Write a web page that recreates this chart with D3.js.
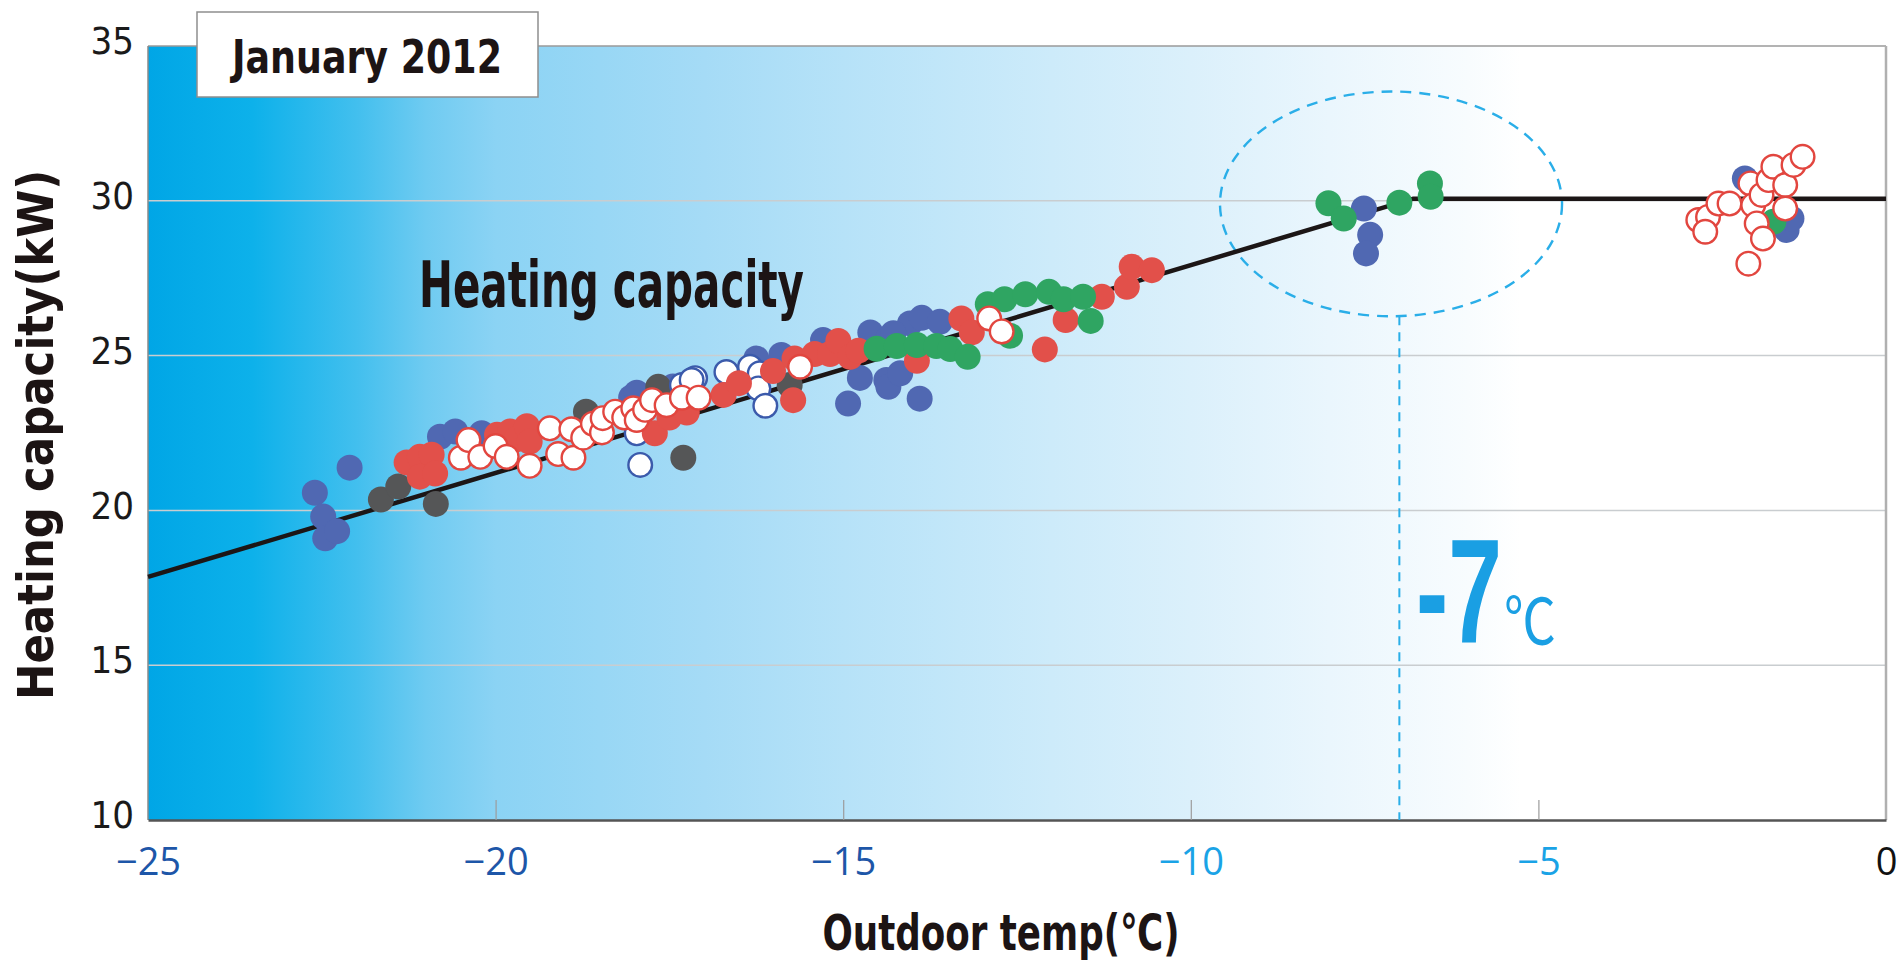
<!DOCTYPE html>
<meta charset="utf-8">
<style>
body { margin: 0; background: #fff; }
svg { display: block; }
.cond { font-family: "Liberation Sans Narrow", "DejaVu Sans Condensed", "Liberation Sans", sans-serif; font-stretch: condensed; }
</style>
<svg width="1904" height="966"></svg>
<script src="https://cdn.jsdelivr.net/npm/d3@7"></script>
<script>

// ---- data ----
var xTicks = [-25, -20, -15, -10, -5, 0];
var yTicks = [10, 15, 20, 25, 30, 35];
var gridValues = [15, 20, 25, 30];

var capacityLine = [[-25, 17.85], [-6.8, 30.07], [0, 30.07]];
var threshold = -7;
var ringCenter = [-7.12, 29.9], ringRadius = [2.46, 3.63];

var blueFill = [
  [-22.60, 20.57], [-22.48, 19.80], [-22.45, 19.10], [-22.28, 19.33], [-22.10, 21.38],
  [-20.80, 22.38], [-20.58, 22.55], [-20.20, 22.49],
  [-18.05, 23.65], [-17.97, 23.80], [-17.45, 24.00], [-16.25, 24.91], [-15.89, 25.02],
  [-15.29, 25.50],
  [-14.93, 23.45], [-14.76, 24.28], [-14.61, 25.75], [-14.38, 24.21], [-14.35, 25.56],
  [-14.35, 23.99], [-14.18, 24.43], [-13.90, 23.61], [-14.04, 26.04], [-13.87, 26.22],
  [-13.61, 26.09], [-14.28, 25.72],
  [-7.51, 29.75], [-7.42, 28.90], [-7.48, 28.30],
  [-2.03, 30.72], [-1.43, 29.06], [-1.36, 29.43]
];
var grayFill = [
  [-21.65, 20.35], [-21.40, 20.77], [-20.86, 20.21], [-18.70, 23.19],
  [-17.66, 23.99], [-17.30, 21.70], [-15.77, 24.05]
];
var whiteBlue = [
  [-17.97, 22.49], [-17.92, 21.47], [-17.32, 24.05], [-17.13, 24.27], [-17.18, 24.21],
  [-16.68, 24.47], [-16.34, 24.64], [-16.20, 24.43], [-16.22, 23.94], [-16.12, 23.38]
];
var redFill = [
  [-21.28, 21.55], [-21.09, 21.73], [-20.92, 21.80], [-21.09, 21.09], [-20.87, 21.19],
  [-19.98, 22.44], [-19.79, 22.55], [-19.70, 22.30], [-19.55, 22.72], [-19.51, 22.22],
  [-17.71, 22.49], [-17.50, 23.00], [-17.25, 23.16], [-16.72, 23.73], [-16.50, 24.11],
  [-16.01, 24.50],
  [-15.72, 23.56], [-15.70, 24.91], [-15.41, 25.05], [-15.19, 25.05], [-15.07, 25.47],
  [-14.90, 24.96], [-14.78, 25.16], [-13.94, 24.83], [-13.30, 26.20], [-13.15, 25.75],
  [-12.10, 25.20], [-11.80, 26.15], [-11.28, 26.90], [-10.92, 27.22], [-10.85, 27.87],
  [-10.56, 27.76]
];
var greenFill = [
  [-14.52, 25.22], [-14.23, 25.31], [-13.94, 25.34], [-13.66, 25.31], [-13.46, 25.21],
  [-13.21, 24.96], [-12.92, 26.66], [-12.68, 26.82], [-12.38, 26.98], [-12.04, 27.06],
  [-11.83, 26.82], [-11.55, 26.90], [-11.44, 26.12], [-12.60, 25.64],
  [-8.02, 29.92], [-7.80, 29.43], [-7.00, 29.94], [-6.56, 30.56], [-6.55, 30.13],
  [-1.62, 29.32]
];
var whiteRed = [
  [-20.50, 21.70], [-20.39, 22.27], [-20.22, 21.73], [-20.00, 22.08], [-19.84, 21.73],
  [-19.51, 21.44], [-19.22, 22.65], [-19.10, 21.82], [-18.91, 22.62], [-18.88, 21.70],
  [-18.74, 22.35], [-18.60, 22.80], [-18.47, 22.52], [-18.46, 22.98], [-18.28, 23.19],
  [-18.15, 23.00], [-18.02, 23.30], [-17.97, 22.92], [-17.85, 23.25], [-17.75, 23.56],
  [-17.54, 23.40], [-17.32, 23.64], [-17.08, 23.64],
  [-15.62, 24.64], [-12.90, 26.20], [-12.72, 25.78],
  [-2.70, 29.38], [-2.56, 29.48], [-2.60, 29.00], [-2.41, 29.91], [-2.25, 29.91],
  [-1.98, 27.97], [-1.95, 30.56], [-1.91, 29.86], [-1.86, 29.27], [-1.79, 30.19],
  [-1.77, 28.78], [-1.69, 30.67], [-1.62, 31.10], [-1.45, 30.51], [-1.45, 29.75],
  [-1.33, 31.16], [-1.20, 31.42]
];

// ---- chart ----
var svg = d3.select("svg");
var plotLeft = 148, plotTop = 46, plotRight = 1886, plotBottom = 820;

var x = d3.scaleLinear().domain([-25, 0]).range([plotLeft, plotRight]);
var y = d3.scaleLinear().domain([10, 35]).range([plotBottom, plotTop]);

var defs = svg.append("defs");
var grad = defs.append("linearGradient").attr("id", "bg")
    .attr("x1", "0%").attr("x2", "100%").attr("y1", "0%").attr("y2", "0%");
[[0, "#00a6e6"], [0.06, "#0db1ea"], [0.12, "#42bfee"], [0.16, "#6fcbf1"],
 [0.2, "#8bd3f4"], [0.32, "#a5dbf6"], [0.4, "#b6e2f8"], [0.52, "#cdebfa"],
 [0.6, "#dbf0fb"], [0.68, "#eaf6fd"], [0.76, "#f8fcfe"], [0.79, "#ffffff"]]
  .forEach(function(s) {
    grad.append("stop").attr("offset", s[0]).attr("stop-color", s[1]);
  });

svg.append("rect")
    .attr("x", plotLeft).attr("y", plotTop)
    .attr("width", plotRight - plotLeft).attr("height", plotBottom - plotTop)
    .attr("fill", "url(#bg)");

// grid
svg.append("g").selectAll("line")
  .data(gridValues)
  .enter().append("line")
    .attr("x1", plotLeft).attr("x2", plotRight)
    .attr("y1", function(d) { return y(d); }).attr("y2", function(d) { return y(d); })
    .attr("stroke", "#c9cdd0").attr("stroke-width", 1.5);

// frame
svg.append("line").attr("x1", plotLeft).attr("x2", plotRight).attr("y1", plotTop).attr("y2", plotTop)
    .attr("stroke", "#9a9a9a").attr("stroke-width", 1.5);
svg.append("line").attr("x1", plotRight).attr("x2", plotRight).attr("y1", plotTop).attr("y2", plotBottom)
    .attr("stroke", "#b0b0b0").attr("stroke-width", 2.5);
svg.append("line").attr("x1", plotLeft).attr("x2", plotLeft).attr("y1", plotTop).attr("y2", plotBottom)
    .attr("stroke", "#8a8a8a").attr("stroke-width", 1.5);

// x axis
var xAxis = d3.axisBottom(x).tickValues(xTicks).tickSize(0).tickPadding(0)
    .tickFormat(function(d) { return d === 0 ? "0" : "\u2212" + Math.abs(d); });
var gx = svg.append("g").attr("transform", "translate(0," + plotBottom + ")").call(xAxis);
gx.select(".domain").attr("stroke", "#555").attr("stroke-width", 2.5);
gx.selectAll(".tick text")
    .attr("y", 55)
    .attr("dy", 0)
    .style("font-family", "'Open Sans', 'Noto Sans', sans-serif")
    .style("font-size", "38px")
    .attr("fill", function(d) { return d === 0 ? "#111" : (d <= -15 ? "#1d56a8" : "#1aa3e6"); });
gx.selectAll(".tick").filter(function(d) { return d !== -25 && d !== 0; })
  .append("line").attr("y1", 0).attr("y2", -20)
    .attr("stroke", "#9c9c9c").attr("stroke-width", 1.2);

// y axis
var yAxis = d3.axisLeft(y).tickValues(yTicks).tickSize(0).tickPadding(14);
var gy = svg.append("g").attr("transform", "translate(" + plotLeft + ",0)").call(yAxis);
gy.select(".domain").remove();
gy.selectAll(".tick text")
    .attr("class", "cond")
    .attr("dy", "0.2em")
    .style("font-size", "38px")
    .attr("fill", "#1a1a1a");

// threshold annotation
svg.append("line")
    .attr("x1", x(threshold)).attr("x2", x(threshold))
    .attr("y1", y(ringCenter[1] - ringRadius[1])).attr("y2", plotBottom)
    .attr("stroke", "#2aaee8").attr("stroke-width", 2)
    .attr("stroke-dasharray", "9,7");
svg.append("ellipse")
    .attr("cx", x(ringCenter[0])).attr("cy", y(ringCenter[1]))
    .attr("rx", x(ringCenter[0] + ringRadius[0]) - x(ringCenter[0]))
    .attr("ry", y(ringCenter[1] - ringRadius[1]) - y(ringCenter[1]))
    .attr("fill", "none")
    .attr("stroke", "#2aaee8").attr("stroke-width", 2.4)
    .attr("stroke-dasharray", "11,8");

// capacity line
svg.append("path")
    .datum(capacityLine)
    .attr("fill", "none")
    .attr("stroke", "#1c1616")
    .attr("stroke-width", 4.5)
    .attr("d", d3.line()
        .x(function(d) { return x(d[0]); })
        .y(function(d) { return y(d[1]); }));

// points
var r = 13;
function dots(data, fill, stroke) {
  svg.append("g").selectAll("circle")
    .data(data)
    .enter().append("circle")
      .attr("cx", function(d) { return x(d[0]); })
      .attr("cy", function(d) { return y(d[1]); })
      .attr("r", stroke ? r - 1.2 : r)
      .attr("fill", fill)
      .attr("stroke", stroke || "none")
      .attr("stroke-width", stroke ? 2.4 : 0);
}
dots(blueFill, "#5068b2");
dots(grayFill, "#555657");
dots(whiteBlue, "#ffffff", "#3b5aab");
dots(redFill, "#e2504a");
dots(greenFill, "#2fa562");
dots(whiteRed, "#ffffff", "#e2463f");

// texts
svg.append("text")
    .attr("x", 1416).attr("y", 643)
    .attr("textLength", 86).attr("lengthAdjust", "spacingAndGlyphs")
    .style("font-family", "'Liberation Sans', Arial, sans-serif")
    .style("font-size", "148px").style("font-weight", "bold")
    .attr("fill", "#1a9fe3")
    .text("-7");
svg.append("text")
    .attr("x", 1504).attr("y", 644)
    .attr("textLength", 52).attr("lengthAdjust", "spacingAndGlyphs")
    .style("font-family", "'Noto Sans CJK JP', sans-serif")
    .style("font-size", "64px")
    .attr("fill", "#1a9fe3")
    .text("\u2103");

svg.append("text").attr("class", "cond")
    .attr("x", 419).attr("y", 307)
    .attr("textLength", 385).attr("lengthAdjust", "spacingAndGlyphs")
    .style("font-size", "64px").style("font-weight", "bold")
    .attr("fill", "#1c1414")
    .text("Heating capacity");

// title box
svg.append("rect")
    .attr("x", 197).attr("y", 12).attr("width", 341).attr("height", 85)
    .attr("fill", "#fff").attr("stroke", "#8e8e8e").attr("stroke-width", 1.5);
svg.append("text").attr("class", "cond")
    .attr("x", 232).attr("y", 73)
    .attr("textLength", 270).attr("lengthAdjust", "spacingAndGlyphs")
    .style("font-size", "46px").style("font-weight", "bold")
    .attr("fill", "#1c1414")
    .text("January 2012");

// axis titles
svg.append("text").attr("class", "cond")
    .attr("transform", "translate(53,435) rotate(-90)")
    .attr("text-anchor", "middle")
    .attr("textLength", 530).attr("lengthAdjust", "spacingAndGlyphs")
    .style("font-size", "50px").style("font-weight", "bold")
    .attr("fill", "#1c1414")
    .text("Heating capacity(kW)");
svg.append("text").attr("class", "cond")
    .attr("x", 1001).attr("y", 950)
    .attr("text-anchor", "middle")
    .attr("textLength", 357).attr("lengthAdjust", "spacingAndGlyphs")
    .style("font-size", "50px").style("font-weight", "bold")
    .attr("fill", "#1c1414")
    .text("Outdoor temp(\u2103)");

</script>
